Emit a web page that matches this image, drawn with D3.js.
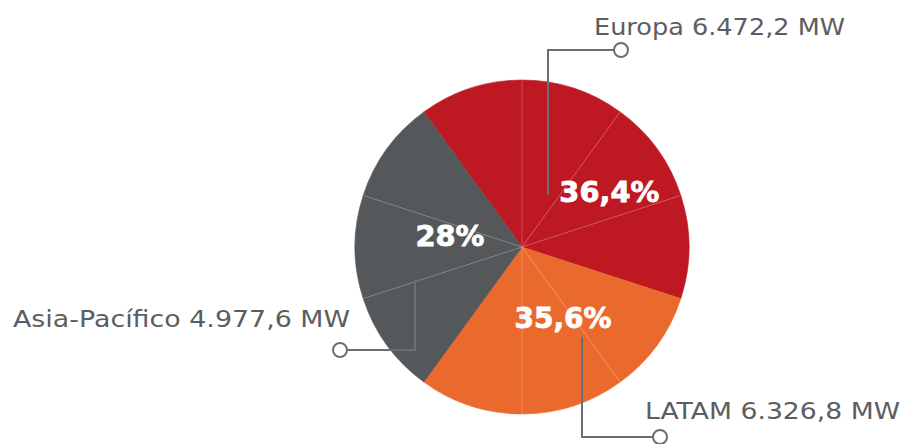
<!DOCTYPE html>
<html>
<head>
<meta charset="utf-8">
<script src="https://cdn.jsdelivr.net/npm/d3@7"></script>
<style>
  body { margin: 0; background: #fff; }
  svg { display: block; }
</style>
</head>
<body>
<svg id="chart"></svg>
<script>
// data
const regions = ["Europa", "LATAM", "Asia-Pacífico"];
const mwLabels = ["6.472,2 MW", "6.326,8 MW", "4.977,6 MW"];
const pctLabels = ["36,4%", "35,6%", "28%"];
const sliceCounts = [4, 3, 3]; // decorative wedges per region
const colors = ["#be1922", "#ea6a2e", "#55585b"];

const width = 905, height = 444;
const cx = 522, cy = 247, radius = 167;

const svg = d3.select("#chart").attr("width", width).attr("height", height);

// flatten into equal wedges, each tagged with its region
const slices = [];
regions.forEach((r, i) => {
  for (let k = 0; k < sliceCounts[i]; k++) slices.push({ region: r, idx: i, k });
});

const pie = d3.pie()
  .value(() => 1)
  .sort(null)
  .startAngle(-Math.PI / 5)
  .endAngle(2 * Math.PI - Math.PI / 5);

const arc = d3.arc().innerRadius(0).outerRadius(radius);
const color = d3.scaleOrdinal().domain(regions).range(colors);

const g = svg.append("g").attr("transform", `translate(${cx},${cy})`);

const arcs = pie(slices);

g.selectAll("path")
  .data(arcs)
  .join("path")
  .attr("d", arc)
  .attr("fill", d => color(d.data.region))
  .attr("stroke", d => color(d.data.region))
  .attr("stroke-width", 0.6);

// thin divider lines inside the same region
g.selectAll("line.div")
  .data(arcs.filter(d => d.data.k > 0))
  .join("line")
  .attr("class", "div")
  .attr("x1", 0).attr("y1", 0)
  .attr("x2", d => radius * Math.sin(d.startAngle))
  .attr("y2", d => -radius * Math.cos(d.startAngle))
  .attr("stroke", "#ffffff")
  .attr("stroke-opacity", 0.35)
  .attr("stroke-width", 0.7);

// percentage labels (placed in polar coords: angle deg from top, distance) + target widths
const pctPos = [[58, 103, 100], [150, 82, 97], [279, 73, 69]];
g.selectAll("text.pct")
  .data(pctLabels)
  .join("text")
  .attr("class", "pct")
  .attr("x", (d, i) => pctPos[i][1] * Math.sin(pctPos[i][0] * Math.PI / 180))
  .attr("y", (d, i) => -pctPos[i][1] * Math.cos(pctPos[i][0] * Math.PI / 180) + 10)
  .attr("text-anchor", "middle")
  .attr("font-family", "'DejaVu Sans', sans-serif")
  .attr("font-weight", "bold")
  .attr("font-size", 28)
  .attr("textLength", (d, i) => pctPos[i][2])
  .attr("lengthAdjust", "spacingAndGlyphs")
  .attr("fill", "#fff")
  .attr("stroke", "#fff")
  .attr("stroke-width", 0.8)
  .text(d => d);

// callouts: path points, circle end, text anchor, text width
const callouts = [
  { pts: [[548, 195], [548, 50], [614, 50]], circ: [621, 50], text: [594, 35], w: 251 },
  { pts: [[582, 337], [582, 437], [653, 437]], circ: [660, 437], text: [645, 419], w: 255 },
  { pts: [[415, 280], [415, 350], [347, 350]], circ: [340, 350], text: [13, 327], w: 337 }
];

const lineColor = "#6d6e71";
callouts.forEach((c, i) => {
  svg.append("path")
    .attr("d", d3.line()(c.pts))
    .attr("fill", "none")
    .attr("stroke", lineColor)
    .attr("stroke-width", 2);
  svg.append("circle")
    .attr("cx", c.circ[0]).attr("cy", c.circ[1]).attr("r", 7)
    .attr("fill", "#fff")
    .attr("stroke", lineColor)
    .attr("stroke-width", 2);
  svg.append("text")
    .attr("x", c.text[0]).attr("y", c.text[1])
    .attr("font-family", "'DejaVu Sans', sans-serif")
    .attr("font-size", 23)
    .attr("textLength", c.w)
    .attr("lengthAdjust", "spacingAndGlyphs")
    .attr("fill", "#5b5e61")
    .text(`${regions[i]} ${mwLabels[i]}`);
});
</script>
</body>
</html>
